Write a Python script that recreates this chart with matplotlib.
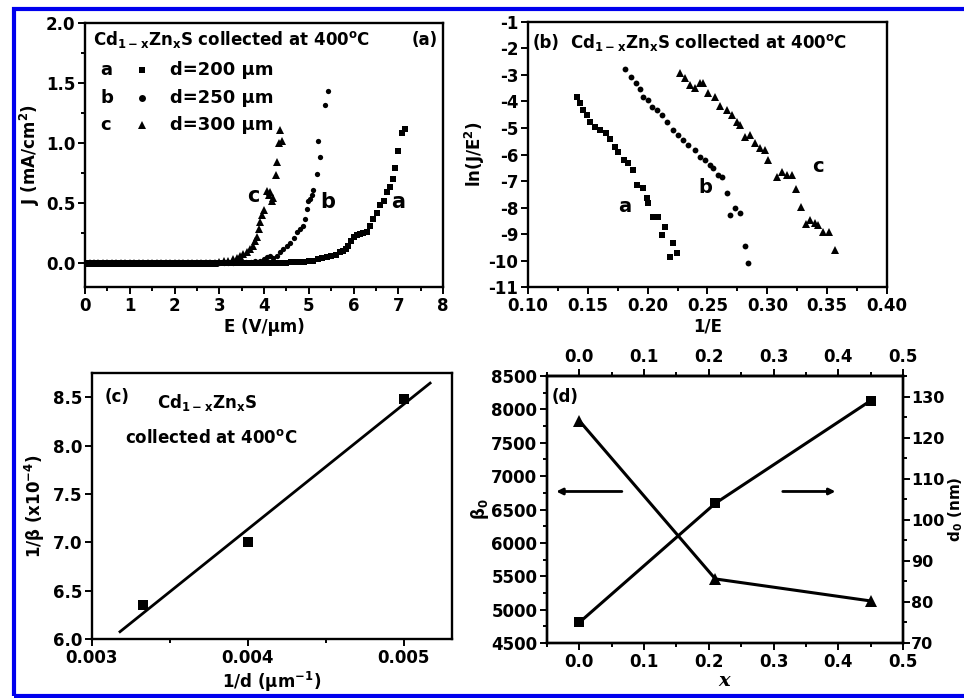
import numpy as np
import matplotlib
matplotlib.use('Agg')
import matplotlib.pyplot as plt
from matplotlib.patches import Rectangle
from matplotlib.ticker import MultipleLocator

plt.rcParams['font.family'] = ['DejaVu Sans']
plt.rcParams['font.weight'] = 'bold'
plt.rcParams['axes.labelweight'] = 'bold'
plt.rcParams['axes.unicode_minus'] = False
plt.rcParams['mathtext.fontset'] = 'custom'
plt.rcParams['mathtext.rm'] = 'DejaVu Sans:bold'
plt.rcParams['mathtext.bf'] = 'DejaVu Sans:bold'
plt.rcParams['mathtext.it'] = 'DejaVu Serif:italic:bold'
plt.rcParams['mathtext.default'] = 'rm'

# ---- (a) J-E curves for three anode distances ----
E_a = [0.0, 0.1, 0.2, 0.3, 0.4, 0.5, 0.6, 0.7, 0.8, 0.9,
       1.0, 1.1, 1.2, 1.3, 1.4, 1.5, 1.6, 1.7, 1.8, 1.9,
       2.0, 2.1, 2.2, 2.3, 2.4, 2.5, 2.6, 2.7, 2.8, 2.9,
       3.0, 3.1, 3.2, 3.3, 3.4, 3.5, 3.6, 3.7, 3.8, 3.9,
       4.0, 4.1, 4.2, 4.3, 4.4, 4.5, 4.6, 4.7, 4.8, 4.9,
       5.0, 5.1, 5.2, 5.3, 5.4, 5.5, 5.6, 5.7, 5.77, 5.83,
       5.88, 5.94, 6.0, 6.07, 6.15, 6.22, 6.30, 6.37, 6.44, 6.52,
       6.59, 6.67, 6.74, 6.82, 6.88, 6.93, 7.00, 7.09, 7.15]
J_a = [0, 0, 0, 0, 0, 0, 0, 0, 0, 0,
       0, 0, 0, 0, 0, 0, 0, 0, 0, 0,
       0, 0, 0, 0, 0, 0, 0, 0, 0, 0,
       0, 0, 0, 0, 0, 0, 0, 0, 0, 0,
       0, 0, 0, 0, 0, 0, 0.005, 0.005, 0.008, 0.01,
       0.015, 0.02, 0.03, 0.04, 0.05, 0.055, 0.07, 0.09, 0.10, 0.12,
       0.145, 0.18, 0.215, 0.23, 0.245, 0.25, 0.26, 0.31, 0.37, 0.42,
       0.48, 0.52, 0.59, 0.63, 0.70, 0.79, 0.93, 1.08, 1.12]

E_b = [0.0, 0.1, 0.2, 0.3, 0.4, 0.5, 0.6, 0.7, 0.8, 0.9,
       1.0, 1.1, 1.2, 1.3, 1.4, 1.5, 1.6, 1.7, 1.8, 1.9,
       2.0, 2.1, 2.2, 2.3, 2.4, 2.5, 2.6, 2.7, 2.8, 2.9,
       3.0, 3.1, 3.2, 3.3, 3.4, 3.5, 3.6, 3.7, 3.8, 3.9,
       4.0, 4.06, 4.13, 4.2, 4.28, 4.36, 4.43, 4.51, 4.58, 4.66,
       4.73, 4.80, 4.86, 4.92, 4.95, 4.99, 5.03, 5.07, 5.10, 5.18,
       5.21, 5.24, 5.36, 5.44]
J_b = [0, 0, 0, 0, 0, 0, 0, 0, 0, 0,
       0, 0, 0, 0, 0, 0, 0, 0, 0, 0,
       0, 0, 0, 0, 0, 0, 0, 0, 0, 0,
       0, 0, 0, 0, 0.005, 0.005, 0.01, 0.01, 0.015, 0.02,
       0.03, 0.05, 0.06, 0.045, 0.06, 0.09, 0.12, 0.145, 0.17, 0.21,
       0.26, 0.28, 0.31, 0.37, 0.45, 0.52, 0.535, 0.57, 0.605, 0.745,
       1.02, 0.88, 1.32, 1.43]

E_c = [0.0, 0.1, 0.2, 0.3, 0.4, 0.5, 0.6, 0.7, 0.8, 0.9,
       1.0, 1.1, 1.2, 1.3, 1.4, 1.5, 1.6, 1.7, 1.8, 1.9,
       2.0, 2.1, 2.2, 2.3, 2.4, 2.5, 2.6, 2.7, 2.8, 2.9,
       3.0, 3.1, 3.2, 3.31, 3.4, 3.46, 3.54, 3.61, 3.68, 3.76,
       3.80, 3.84, 3.88, 3.91, 3.95, 4.0, 4.06, 4.10, 4.13, 4.17,
       4.21, 4.27, 4.30, 4.34, 4.36, 4.40]
J_c = [0, 0, 0, 0, 0, 0, 0, 0, 0, 0,
       0, 0, 0, 0, 0, 0, 0, 0, 0, 0,
       0, 0, 0, 0, 0, 0, 0, 0, 0, 0,
       0.01, 0.015, 0.02, 0.035, 0.045, 0.06, 0.075, 0.09, 0.12, 0.145,
       0.18, 0.215, 0.28, 0.34, 0.40, 0.44, 0.60, 0.57, 0.59, 0.52,
       0.54, 0.73, 0.84, 1.00, 1.11, 1.02]

# ---- (b) F-N plots ln(J/E^2) vs 1/E ----
invE_a = [0.1407, 0.1435, 0.1462, 0.1490, 0.1518, 0.1560, 0.1600, 0.1650, 0.1685,
          0.1727, 0.1755, 0.1800, 0.1838, 0.1880, 0.1908, 0.1964, 0.1992, 0.2005,
          0.2047, 0.2089, 0.2117, 0.2145, 0.2209, 0.2187, 0.2243]
lnJ_a = [-3.82, -4.07, -4.32, -4.51, -4.76, -4.95, -5.08, -5.20, -5.43,
         -5.71, -5.89, -6.21, -6.33, -6.58, -7.15, -7.28, -7.65, -7.84,
         -8.35, -8.35, -9.04, -8.75, -9.33, -9.86, -9.73]

invE_b = [0.1814, 0.1865, 0.1900, 0.1936, 0.1964, 0.2005, 0.2034, 0.2075, 0.2117,
          0.2159, 0.2214, 0.2256, 0.2298, 0.2340, 0.2396, 0.2437, 0.2479, 0.2521,
          0.2549, 0.2590, 0.2619, 0.2660, 0.2688, 0.2730, 0.2772, 0.2813, 0.2841]
lnJ_b = [-2.79, -3.09, -3.31, -3.54, -3.82, -3.94, -4.20, -4.32, -4.51,
         -4.76, -5.08, -5.26, -5.45, -5.64, -5.83, -6.08, -6.21, -6.40,
         -6.52, -6.77, -6.84, -7.44, -8.28, -8.03, -8.22, -9.45, -10.1]

invE_c = [0.2270, 0.2312, 0.2354, 0.2396, 0.2437, 0.2465, 0.2507, 0.2563, 0.2604,
          0.2660, 0.2702, 0.2744, 0.2772, 0.2813, 0.2855, 0.2897, 0.2939, 0.2980,
          0.3008, 0.3078, 0.3120, 0.3162, 0.3204, 0.3240, 0.3279, 0.3323, 0.3357,
          0.3398, 0.3426, 0.3468, 0.3518, 0.3565]
lnJ_c = [-2.94, -3.12, -3.38, -3.50, -3.29, -3.31, -3.67, -3.82, -4.17,
         -4.32, -4.51, -4.76, -4.89, -5.33, -5.26, -5.58, -5.77, -5.83,
         -6.21, -6.84, -6.65, -6.77, -6.77, -7.31, -7.97, -8.62, -8.47,
         -8.57, -8.66, -8.91, -8.91, -9.60]

# ---- (c) 1/beta vs 1/d ----
inv_d = [0.00333, 0.004, 0.005]
inv_beta = [6.35, 7.0, 8.48]

# ---- (d) beta0 and d0 vs Zn content ----
x_zn = [0.0, 0.21, 0.45]
beta0 = [7830, 5460, 5130]
d0 = [75, 104, 129]

title_txt = r'Cd$_{1-x}$Zn$_{x}$S collected at 400$^{o}$C'
TICK = 12
LAB = 12

fig = plt.figure(figsize=(9.64, 6.98), dpi=100)
ax1 = fig.add_axes([0.0882, 0.5888, 0.3714, 0.3782])
ax2 = fig.add_axes([0.5477, 0.5888, 0.3724, 0.3797])
ax3 = fig.add_axes([0.0954, 0.0845, 0.3734, 0.3811])
ax4 = fig.add_axes([0.5674, 0.0788, 0.3693, 0.3825])


def style(ax):
    for s in ax.spines.values():
        s.set_linewidth(1.7)
    ax.tick_params(which='both', direction='out', width=1.4, labelsize=TICK,
                   top=False, right=False, pad=2)
    ax.tick_params(which='major', length=5)
    ax.tick_params(which='minor', length=3)


# (a)
ax1.plot(E_a, J_a, 's', color='k', ms=3.8, mew=0)
ax1.plot(E_b, J_b, 'o', color='k', ms=3.8, mew=0)
ax1.plot(E_c, J_c, '^', color='k', ms=5.5, mew=0)
ax1.set_xlim(0, 8)
ax1.set_ylim(-0.2, 2.0)
ax1.xaxis.set_major_locator(MultipleLocator(1))
ax1.xaxis.set_minor_locator(MultipleLocator(0.5))
ax1.yaxis.set_major_locator(MultipleLocator(0.5))
ax1.yaxis.set_minor_locator(MultipleLocator(0.25))
ax1.set_xlabel('E (V/µm)', fontsize=LAB, labelpad=2)
ax1.set_ylabel(r'J (mA/cm$^2$)', fontsize=LAB, labelpad=3)
ax1.text(0.022, 0.936, title_txt, transform=ax1.transAxes, fontsize=12,
         va='center', ha='left')
ax1.text(0.985, 0.936, '(a)', transform=ax1.transAxes, fontsize=12,
         va='center', ha='right')
for yy, letter, mk, lab in [(0.822, 'a', 's', 'd=200 µm'),
                            (0.716, 'b', 'o', 'd=250 µm'),
                            (0.614, 'c', '^', 'd=300 µm')]:
    ax1.text(0.042, yy, letter, transform=ax1.transAxes, fontsize=13,
             va='center', ha='left')
    ax1.plot([0.159], [yy], mk, color='k', ms=5.5 if mk == '^' else 5,
             mew=0, transform=ax1.transAxes)
    ax1.text(0.237, yy, lab, transform=ax1.transAxes, fontsize=13,
             va='center', ha='left')
ax1.text(3.76, 0.56, 'c', fontsize=15, ha='center', va='center')
ax1.text(5.43, 0.51, 'b', fontsize=15, ha='center', va='center')
ax1.text(7.0, 0.51, 'a', fontsize=15, ha='center', va='center')
style(ax1)

# (b)
ax2.plot(invE_a, lnJ_a, 's', color='k', ms=4.2, mew=0)
ax2.plot(invE_b, lnJ_b, 'o', color='k', ms=4.2, mew=0)
ax2.plot(invE_c, lnJ_c, '^', color='k', ms=6, mew=0)
ax2.set_xlim(0.10, 0.40)
ax2.set_ylim(-11, -1)
ax2.xaxis.set_major_locator(MultipleLocator(0.05))
ax2.xaxis.set_minor_locator(MultipleLocator(0.025))
ax2.yaxis.set_major_locator(MultipleLocator(1))
ax2.xaxis.set_major_formatter(plt.FormatStrFormatter('%.2f'))
ax2.set_xlabel('1/E', fontsize=LAB, labelpad=2)
ax2.set_ylabel(r'ln(J/E$^2$)', fontsize=LAB, labelpad=1)
ax2.text(0.014, 0.921, '(b)', transform=ax2.transAxes, fontsize=12,
         va='center', ha='left')
ax2.text(0.117, 0.921, title_txt, transform=ax2.transAxes, fontsize=12,
         va='center', ha='left')
ax2.text(0.270, 0.302, 'a', transform=ax2.transAxes, fontsize=14,
         ha='center', va='center')
ax2.text(0.493, 0.374, 'b', transform=ax2.transAxes, fontsize=14,
         ha='center', va='center')
ax2.text(0.808, 0.453, 'c', transform=ax2.transAxes, fontsize=14,
         ha='center', va='center')
style(ax2)

# (c)
slope, icpt = np.polyfit(inv_d, inv_beta, 1)
xfit = np.array([0.00318, 0.00517])
ax3.plot(xfit, slope * xfit + icpt, '-', color='k', lw=2)
ax3.plot(inv_d, inv_beta, 's', color='k', ms=7, mew=0)
ax3.set_xlim(0.003, 0.00531)
ax3.set_ylim(6.0, 8.75)
ax3.xaxis.set_major_locator(MultipleLocator(0.001))
ax3.xaxis.set_minor_locator(MultipleLocator(0.0005))
ax3.yaxis.set_major_locator(MultipleLocator(0.5))
ax3.xaxis.set_major_formatter(plt.FormatStrFormatter('%.3f'))
ax3.yaxis.set_major_formatter(plt.FormatStrFormatter('%.1f'))
ax3.set_xlabel(r'1/d (µm$^{-1}$)', fontsize=LAB, labelpad=2)
ax3.set_ylabel(r'1/β (x10$^{-4}$)', fontsize=LAB, labelpad=4)
ax3.text(0.036, 0.91, '(c)', transform=ax3.transAxes, fontsize=12,
         va='center', ha='left')
ax3.text(0.18, 0.89, r'Cd$_{1-x}$Zn$_{x}$S', transform=ax3.transAxes,
         fontsize=12, va='center', ha='left')
ax3.text(0.092, 0.756, r'collected at 400$^{o}$C', transform=ax3.transAxes,
         fontsize=12, va='center', ha='left')
style(ax3)

# (d)
ax4.plot(x_zn, beta0, '^-', color='k', ms=9, lw=2.2, mew=0)
ax4.set_xlim(-0.05, 0.5)
ax4.set_ylim(4500, 8500)
ax4.xaxis.set_major_locator(MultipleLocator(0.1))
ax4.xaxis.set_minor_locator(MultipleLocator(0.05))
ax4.yaxis.set_major_locator(MultipleLocator(500))
ax4.yaxis.set_minor_locator(MultipleLocator(250))
ax4.xaxis.set_major_formatter(plt.FormatStrFormatter('%.1f'))
ax4.set_xlabel(r'$\mathit{x}$', fontsize=14, labelpad=0)
ax4.set_ylabel(r'β$_0$', fontsize=LAB, labelpad=0)
style(ax4)
ax4r = ax4.twinx()
ax4r.plot(x_zn, d0, 's-', color='k', ms=7.5, lw=2.2, mew=0)
ax4r.set_ylim(70, 135)
ax4r.yaxis.set_major_locator(MultipleLocator(10))
ax4r.yaxis.set_minor_locator(MultipleLocator(5))
ax4r.set_ylabel(r'd$_0$ (nm)', fontsize=11)
ax4r.yaxis.set_label_coords(1.122, 0.5)
style(ax4r)
ax4r.tick_params(which='both', right=True, left=False, pad=1, labelsize=11.5)
top = ax4.secondary_xaxis('top')
top.xaxis.set_major_locator(MultipleLocator(0.1))
top.xaxis.set_minor_locator(MultipleLocator(0.05))
top.xaxis.set_major_formatter(plt.FormatStrFormatter('%.1f'))
top.tick_params(which='both', direction='out', width=1.4, labelsize=TICK, pad=2)
top.tick_params(which='major', length=5)
top.tick_params(which='minor', length=3)
top.spines['top'].set_linewidth(1.7)
ax4.annotate('', xy=(-0.04, 6770), xytext=(0.07, 6770),
             arrowprops=dict(arrowstyle='-|>', color='k', lw=2, mutation_scale=9))
ax4.annotate('', xy=(0.40, 6770), xytext=(0.31, 6770),
             arrowprops=dict(arrowstyle='-|>', color='k', lw=2, mutation_scale=9))
ax4.text(0.014, 0.921, '(d)', transform=ax4.transAxes, fontsize=12,
         va='center', ha='left')

# blue frame around the figure
fig.add_artist(Rectangle((14 / 964, 2 / 698), 1.0, 687 / 698,
                         transform=fig.transFigure, fill=False,
                         edgecolor='#0000ee', lw=3, clip_on=False))

fig.savefig('out.png', dpi=100)
